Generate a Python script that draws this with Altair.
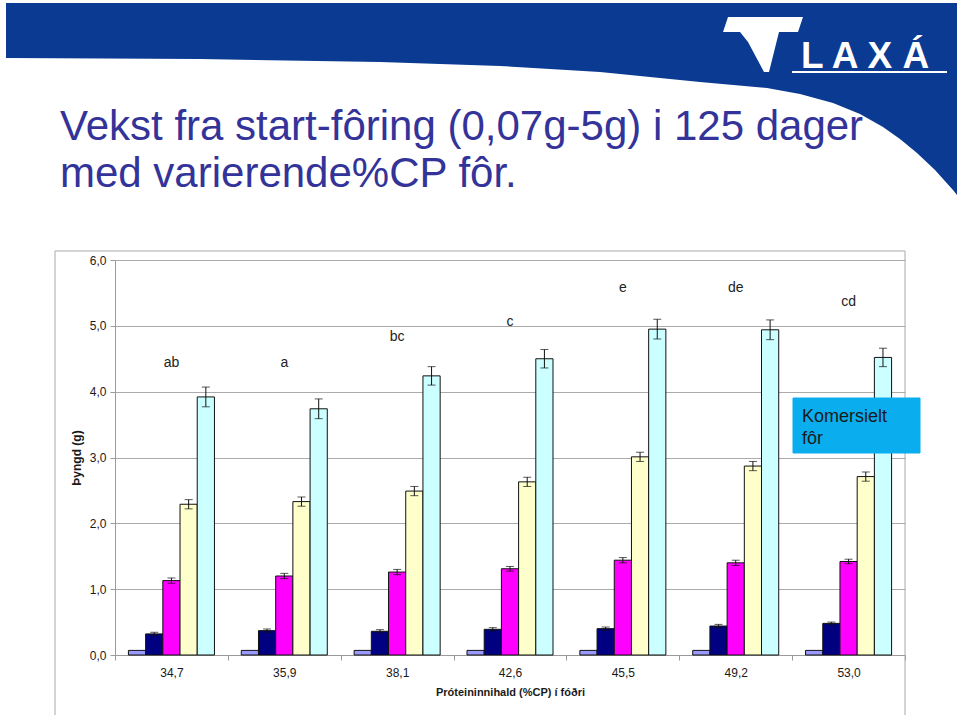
import altair as alt
import pandas as pd

# ---------------- data ----------------
categories = ["34,7", "35,9", "38,1", "42,6", "45,5", "49,2", "53,0"]
series = ["Måling 1", "Måling 2", "Måling 3", "Måling 4", "Måling 5"]

values_1 = [0.07, 0.07, 0.07, 0.07, 0.07, 0.07, 0.07]
values_2 = [0.32, 0.37, 0.36, 0.39, 0.40, 0.44, 0.48]
values_3 = [1.13, 1.20, 1.26, 1.31, 1.44, 1.40, 1.42]
values_4 = [2.29, 2.33, 2.49, 2.63, 3.01, 2.87, 2.71]
values_5 = [3.92, 3.74, 4.24, 4.50, 4.95, 4.94, 4.52]

err_1 = [0.0, 0.0, 0.0, 0.0, 0.0, 0.0, 0.0]
err_2 = [0.025, 0.025, 0.025, 0.025, 0.025, 0.025, 0.02]
err_3 = [0.04, 0.04, 0.04, 0.035, 0.04, 0.04, 0.035]
err_4 = [0.07, 0.07, 0.07, 0.07, 0.07, 0.07, 0.07]
err_5 = [0.15, 0.15, 0.14, 0.14, 0.15, 0.15, 0.14]

sig_letters = ["ab", "a", "bc", "c", "e", "de", "cd"]
sig_y = [4.44, 4.44, 4.83, 5.06, 5.58, 5.58, 5.36]

title_line_1 = "Vekst fra start-fôring (0,07g-5g) i 125 dager"
title_line_2 = "med varierende%CP fôr."
x_title = "Próteininnihald (%CP) í fóðri"
y_title = "Þyngd (g)"
box_lines = ["Komersielt", "fôr"]
logo_text = "L A X Á"

colors = ["#9999FF", "#000080", "#FF00FF", "#FFFFCC", "#CCFFFF"]

# ---------------- tables ----------------
vals = [values_1, values_2, values_3, values_4, values_5]
errs = [err_1, err_2, err_3, err_4, err_5]
rows = []
for s, v, e in zip(series, vals, errs):
    for c, vv, ee in zip(categories, v, e):
        rows.append({"cp": c, "serie": s, "verdi": vv, "err": ee})
df = pd.DataFrame(rows)
sig = pd.DataFrame({"cp": categories, "bokstav": sig_letters, "pos": sig_y})
one = pd.DataFrame({"k": [0]})

FONT = "Liberation Sans"
HEADER_BLUE = "#0A3A92"

x_enc = alt.X(
    "cp:N",
    sort=categories,
    scale=alt.Scale(domain=categories, paddingInner=0, paddingOuter=0),
    axis=alt.Axis(
        title=x_title, labelAngle=0, tickBand="extent", tickSize=5,
        labelPadding=7, titlePadding=8, labelFontSize=12, titleFontSize=11,
        titleFontWeight="bold", grid=False, domainColor="#9A9A9A", tickColor="#9A9A9A",
    ),
)
xo_enc = alt.XOffset(
    "serie:N", sort=series,
    scale=alt.Scale(domain=series, paddingInner=0, paddingOuter=0.78),
)
y_scale = alt.Scale(domain=[0, 6], nice=False, zero=True)
y_axis = alt.Axis(
    values=[0, 1, 2, 3, 4, 5, 6],
    labelExpr="replace(format(datum.value, '.1f'), '.', ',')",
    title=y_title, tickSize=5, labelPadding=4, titlePadding=6,
    labelFontSize=12, titleFontSize=12, titleFontWeight="bold",
    grid=True, gridColor="#ABABAB", domainColor="#9A9A9A", tickColor="#9A9A9A",
)

# ---------------- decorations ----------------
frame = alt.Chart(one).mark_rect(fillOpacity=0, stroke="#A8A8A8", strokeWidth=1).encode(
    x=alt.value(-60), x2=alt.value(790), y=alt.value(-9), y2=alt.value(458)
)

title1 = alt.Chart(one).mark_text(
    font=FONT, fontSize=42, color="#333399", align="left", baseline="alphabetic"
).encode(x=alt.value(-55), y=alt.value(-120), text=alt.value(title_line_1))
title2 = alt.Chart(one).mark_text(
    font=FONT, fontSize=42, color="#333399", align="left", baseline="alphabetic"
).encode(x=alt.value(-55), y=alt.value(-73), text=alt.value(title_line_2))

swoosh_path = ("M6,3 L957,3 L957,195 L953,190 L935,170 L917,153 L900,139 L883,127 L860,114 "
               "L833,103 L800,94 L767,88 L700,82 L650,77 L600,72 L500,66 L380,62 L200,59 L6,58 Z")
swoosh = alt.Chart(one).mark_point(
    shape=swoosh_path, size=4, filled=True, fill=HEADER_BLUE, opacity=1, strokeWidth=0
).encode(x=alt.value(-115), y=alt.value(-260))

logo_path = ("M728,17 L803,17 L798,32 L779,32 L769,72 L764,72 L748,42 L740,32 L723,32 Z")
logo_sym = alt.Chart(one).mark_point(
    shape=logo_path, size=4, filled=True, fill="white", opacity=1, strokeWidth=0
).encode(x=alt.value(-115), y=alt.value(-260))

logo_txt = alt.Chart(one).mark_text(
    font=FONT, fontSize=37, fontWeight="bold", color="white",
    align="left", baseline="alphabetic"
).encode(x=alt.value(686), y=alt.value(-192), text=alt.value(logo_text))

logo_line = alt.Chart(one).mark_rule(color="white", strokeWidth=2).encode(
    x=alt.value(677), x2=alt.value(832), y=alt.value(-188)
)

# ---------------- data marks ----------------
bars = alt.Chart(df).mark_bar(stroke="#111111", strokeWidth=1).encode(
    x=x_enc, xOffset=xo_enc,
    y=alt.Y("verdi:Q", scale=y_scale, axis=y_axis, title=y_title),
    color=alt.Color("serie:N", scale=alt.Scale(domain=series, range=colors), legend=None),
)

err_base = alt.Chart(df).transform_filter("datum.err > 0").transform_calculate(
    lo="datum.verdi - datum.err", hi="datum.verdi + datum.err"
)
err_rule = err_base.mark_rule(color="#111111", strokeWidth=1).encode(
    x=x_enc, xOffset=xo_enc,
    y=alt.Y("lo:Q", scale=y_scale, title=y_title), y2="hi:Q",
)
cap_lo = err_base.mark_tick(color="#111111", thickness=1, size=8).encode(
    x=x_enc, xOffset=xo_enc, y=alt.Y("lo:Q", scale=y_scale, title=y_title)
)
cap_hi = err_base.mark_tick(color="#111111", thickness=1, size=8).encode(
    x=x_enc, xOffset=xo_enc, y=alt.Y("hi:Q", scale=y_scale, title=y_title)
)

letters = alt.Chart(sig).mark_text(
    font=FONT, fontSize=14, color="#222222", baseline="middle", align="center"
).encode(
    x=x_enc, y=alt.Y("pos:Q", scale=y_scale, title=y_title), text="bokstav:N"
)

box = alt.Chart(one).mark_rect(fill="#0AAEEE", stroke="#0AAEEE").encode(
    x=alt.value(678), x2=alt.value(805), y=alt.value(138), y2=alt.value(193)
)
box_t1 = alt.Chart(one).mark_text(
    font=FONT, fontSize=18, color="#1A1A1A", align="left", baseline="alphabetic"
).encode(x=alt.value(687), y=alt.value(162), text=alt.value(box_lines[0]))
box_t2 = alt.Chart(one).mark_text(
    font=FONT, fontSize=18, color="#1A1A1A", align="left", baseline="alphabetic"
).encode(x=alt.value(687), y=alt.value(184), text=alt.value(box_lines[1]))

chart = alt.layer(
    frame, title1, title2, swoosh, logo_sym, logo_txt, logo_line,
    bars, err_rule, cap_lo, cap_hi, letters, box, box_t1, box_t2,
).properties(
    width=790, height=395,
    padding={"left": 115, "top": 260, "right": 55, "bottom": 60},
    autosize=alt.AutoSizeParams(type="none"),
    background="white",
).configure_view(strokeWidth=0).configure_axis(
    labelFont=FONT, titleFont=FONT, labelColor="#1A1A1A", titleColor="#1A1A1A"
)

chart.save("out.html", embed_options={"renderer": "svg", "actions": False})
